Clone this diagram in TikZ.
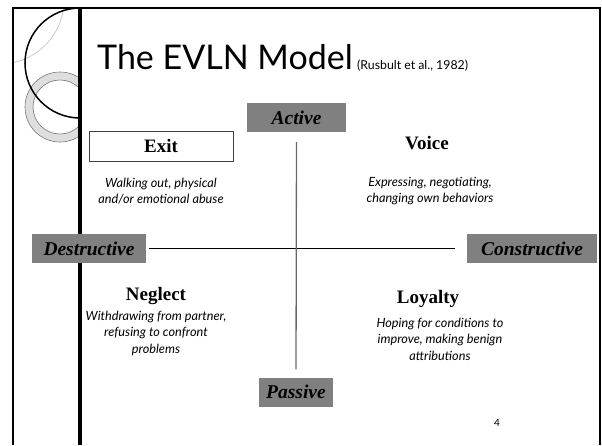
\documentclass[tikz,border=0pt]{standalone}
\usepackage{fontspec}
\setmainfont{Liberation Serif}
\newfontfamily\gill{Lato}
\definecolor{labgray}{RGB}{128,128,128}
\definecolor{axgray}{RGB}{105,105,105}
\definecolor{ringfill}{RGB}{222,222,222}
\definecolor{ringline}{RGB}{120,120,120}
\definecolor{faint}{RGB}{190,190,190}
\tikzset{
  axislab/.style={fill=labgray, inner sep=0pt, minimum height=29pt,
    font=\fontsize{19.5}{22}\selectfont\bfseries\itshape},
  quadname/.style={inner sep=0pt, font=\fontsize{19}{22}\selectfont\bfseries},
  desc/.style={inner sep=0pt, align=center, font=\gill\itshape\fontsize{12.7}{16.5}\selectfont},
}
\begin{document}
\begin{tikzpicture}[x=1pt,y=-1pt]
\useasboundingbox (0,0) rectangle (602,445);
% decorative circles in the left margin
\begin{scope}
  \clip (13,8) rectangle (78,445);
  \draw[faint, line width=0.6pt] (0,0) circle (64);
  \draw[draw=ringline, fill=ringfill, line width=0.6pt, even odd rule]
    (60,107) circle (35) (60,107) circle (27);
  \draw[line width=1.5pt] (80,63) circle (55);
\end{scope}
% frame
\draw[line width=2pt] (13,445) -- (13,8) -- (600,8) -- (600,445);
% title
\node[anchor=base west, inner sep=0pt, font=\gill\fontsize{34}{38}\selectfont] (title) at (97,69) {The EVLN Model};
\node[anchor=base west, inner sep=0pt, font=\gill\fontsize{12.3}{14}\selectfont] (cite) at (357,69) {(Rusbult et al., 1982)};
% quadrant texts
\node[draw=black!75, line width=0.7pt, minimum width=144pt, minimum height=30pt, inner sep=0pt,
      font=\fontsize{19}{22}\selectfont\bfseries] (exit) at (161,146) {Exit};
\node[desc] (exitd) at (161,191) {Walking out, physical\\and/or emotional abuse};
\node[quadname] (voice) at (427,143) {Voice};
\node[desc] (voiced) at (430,191) {Expressing, negotiating,\\changing own behaviors};
\node[quadname] (neglect) at (156,296) {Neglect};
\node[desc] (neglectd) at (156,333) {Withdrawing from partner,\\refusing to confront\\problems};
\node[quadname] (loyalty) at (428,299) {Loyalty};
\node[desc] (loyaltyd) at (440,339) {Hoping for conditions to\\improve, making benign\\attributions};
\node[inner sep=0pt, font=\gill\fontsize{10}{11}\selectfont] (page) at (497,423) {4};
% thick margin bar
\fill (78,8) rectangle (82,445);
% axis labels
\node[axislab, minimum width=99pt] (active) at (296.5,117.5) {Active};
\node[axislab, minimum width=74pt] (passive) at (296,392) {Passive};
\node[axislab, minimum width=114pt] (destr) at (89,248.5) {Destructive};
\node[axislab, minimum width=130pt] (constr) at (532,248.5) {Constructive};
% axes
\draw[line width=1pt, shorten <=3pt, shorten >=12pt] (destr.east) -- (constr.west);
\draw[axgray, line width=1.3pt, shorten <=10pt, shorten >=8pt] (active.south) -- (passive.north);
\end{tikzpicture}
\end{document}
